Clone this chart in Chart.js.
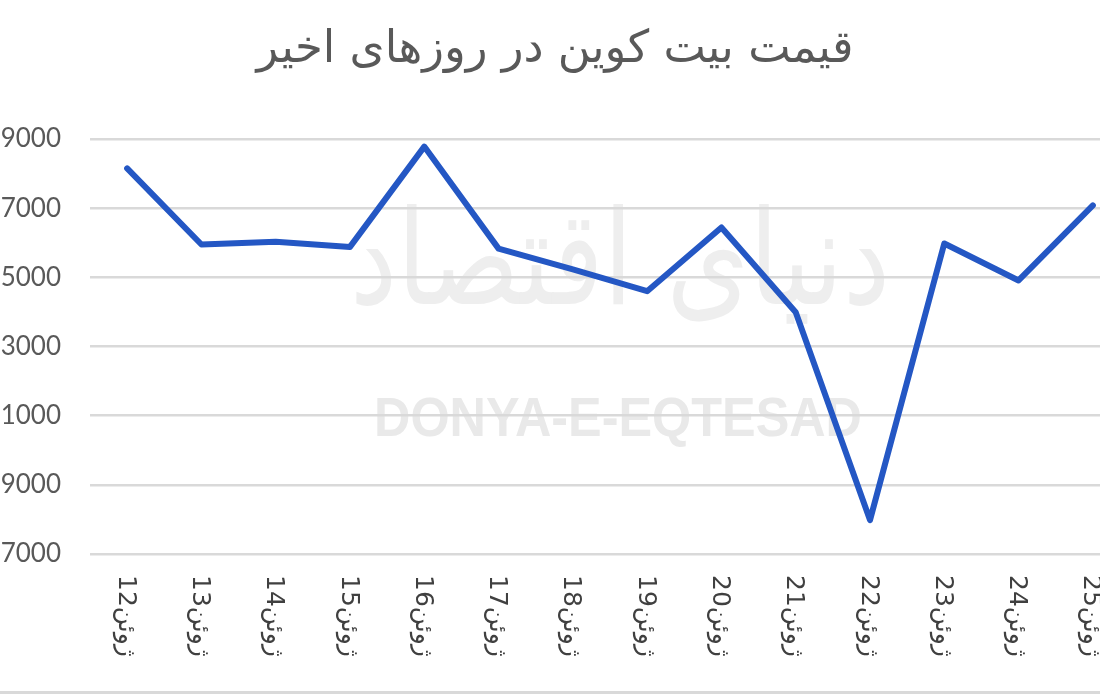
<!DOCTYPE html>
<html lang="fa">
<head>
<meta charset="utf-8">
<title>قیمت بیت کوین در روزهای اخیر</title>
<script src="https://cdn.jsdelivr.net/npm/chart.js@4.4.1/dist/chart.umd.min.js"></script>
<style>
    html, body { margin: 0; padding: 0; background: #fff; overflow: hidden; }
    #wrap { position: relative; width: 1100px; height: 698px; overflow: hidden; }
    #chart { position: absolute; left: -20px; top: 0; }
    #rule { position: absolute; left: 0; right: 0; top: 691px; height: 3px; background: #d9d9d9; }
</style>
</head>
<body>
<div id="wrap">
    <canvas id="chart" width="1150" height="698"></canvas>
    <div id="rule"></div>
</div>
<script>
"use strict";

// days of June, price in dollars
const days = ["12", "13", "14", "15", "16", "17", "18", "19", "20", "21", "22", "23", "24", "25"];
const monthName = "ژوئن";
const prices = [28150, 25950, 26030, 25880, 28780, 25830, 25230, 24600, 26440, 23990, 17980, 25980, 24910, 27080];
const yTickValues = [17000, 19000, 21000, 23000, 25000, 27000, 29000];

const titleText = "قیمت بیت کوین در روزهای اخیر";
const watermarkFa = "دنیای اقتصاد";
const watermarkEn = "DONYA-E-EQTESAD";

const labels = days.map((d) => d + monthName);
const chartContext = document.getElementById("chart");

// faint newspaper watermark behind the grid
const watermark = {
    id: "watermark",
    beforeDraw(chart) {
        const ctx = chart.ctx;
        ctx.save();
        ctx.fillStyle = "#eeeeee";
        ctx.textAlign = "center";
        ctx.textBaseline = "middle";

        ctx.font = "120px 'DejaVu Sans'";
        let w = ctx.measureText(watermarkFa).width;
        ctx.translate(640, 270);
        ctx.scale(540 / w, 1.1);
        ctx.fillText(watermarkFa, 0, 0);
        ctx.restore();

        ctx.save();
        ctx.fillStyle = "#e9e9e9";
        ctx.textAlign = "center";
        ctx.textBaseline = "middle";
        ctx.font = "bold 56px 'Liberation Sans'";
        w = ctx.measureText(watermarkEn).width;
        ctx.translate(638, 421);
        ctx.scale(488 / w, 1);
        ctx.fillText(watermarkEn, 0, 0);
        ctx.restore();
    }
};

// category labels turned a quarter clockwise, read from top to bottom
const xLabels = {
    id: "xLabels",
    afterDraw(chart) {
        const ctx = chart.ctx;
        const xScale = chart.scales.x;
        const top = chart.chartArea.bottom + 21;
        ctx.save();
        ctx.fillStyle = "#404040";
        ctx.font = "25px 'DejaVu Sans'";
        ctx.textAlign = "left";
        ctx.textBaseline = "middle";
        labels.forEach((label, i) => {
            const x = xScale.getPixelForValue(i);
            ctx.save();
            ctx.translate(x - 2, top);
            ctx.rotate(Math.PI / 2);
            ctx.fillText(label, 0, 0);
            ctx.restore();
        });
        ctx.restore();
    }
};

const myChart = new Chart(chartContext, {
    type: "line",
    data: {
        labels: labels,
        datasets: [
            {
                label: "قیمت",
                data: prices,
                borderColor: "#2457c4",
                backgroundColor: "#2457c4",
                borderWidth: 6,
                borderCapStyle: "round",
                borderJoinStyle: "round",
                pointRadius: 0,
                tension: 0
            }
        ]
    },
    options: {
        responsive: false,
        animation: false,
        layout: { padding: 0 },
        plugins: {
            legend: { display: false },
            tooltip: { enabled: false },
            title: {
                display: true,
                text: titleText,
                color: "#595959",
                font: { family: "'DejaVu Sans'", size: 45, weight: "normal" },
                padding: { top: 23, bottom: 62 }
            }
        },
        scales: {
            x: {
                offset: true,
                grid: { display: false },
                border: { display: false },
                ticks: { display: false },
                afterFit: (scale) => { scale.height = 144; }
            },
            y: {
                min: yTickValues[0],
                max: yTickValues[yTickValues.length - 1],
                afterBuildTicks: (scale) => {
                    scale.ticks = yTickValues.map((v) => ({ value: v }));
                },
                afterFit: (scale) => { scale.width = 110; },
                grid: { color: "#d9d9d9", lineWidth: 2.5, drawTicks: false },
                border: { display: false },
                ticks: {
                    color: "#595959",
                    padding: 29,
                    font: { family: "Lato", size: 26 },
                    callback: (value) => String(value)
                }
            }
        }
    },
    plugins: [watermark, xLabels]
});
</script>
</body>
</html>
